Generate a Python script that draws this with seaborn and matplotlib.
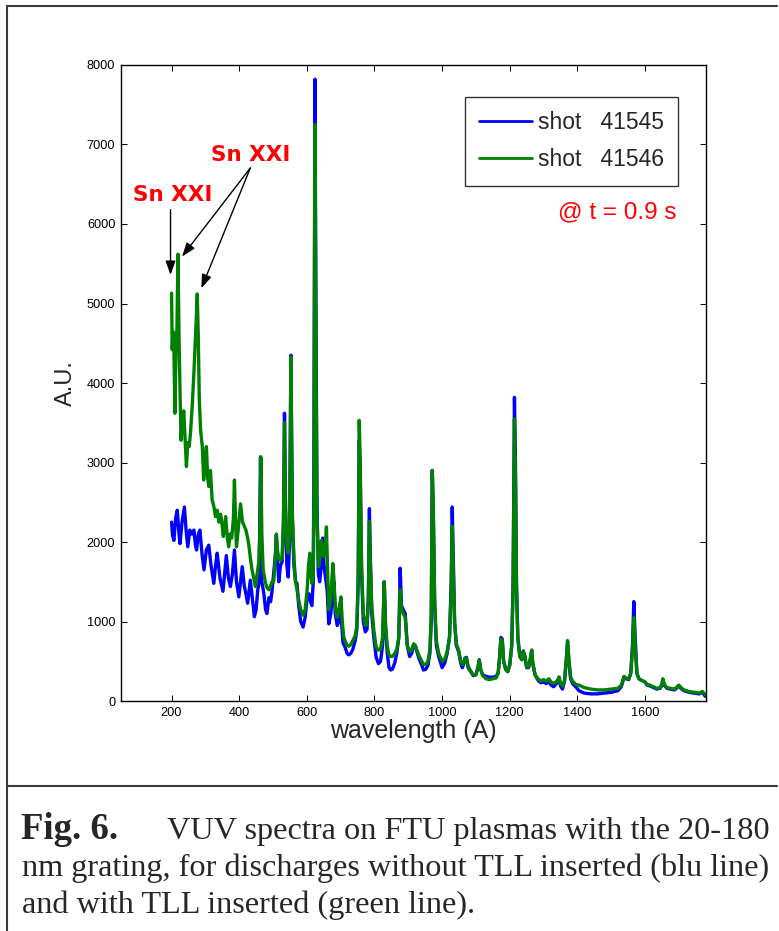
import numpy as np
import pandas as pd
import matplotlib
matplotlib.use("Agg")
import matplotlib.pyplot as plt
from matplotlib.lines import Line2D
import seaborn as sns

# ---------------- data ----------------
wl_41545 = [200, 203, 207, 212, 217, 222, 225, 231, 238, 243, 248, 254, 260, 266, 271, 274, 279, 284, 290, 296,
            303, 310, 317, 325, 330, 335, 343, 352, 357, 362, 368, 374, 380, 386, 392, 399, 404, 409, 415, 420,
            425, 433, 440, 445, 450, 455, 459, 463, 467, 473, 478, 482, 488, 493, 497, 503, 508, 510, 513, 517,
            522, 527, 531, 534, 537, 541, 545, 549, 553, 557, 562, 567, 571, 576, 582, 589, 595, 601, 606, 611,
            615, 619, 621, 624, 627, 630, 634, 638, 643, 647, 651, 655, 660, 665, 671, 677, 680, 684, 690, 695,
            701, 707, 713, 719, 724, 730, 736, 743, 748, 752, 755, 758, 762, 767, 773, 778, 782, 785, 788, 792,
            798, 805, 812, 818, 824, 829, 833, 838, 843, 848, 853, 860, 866, 872, 876, 880, 885, 891, 897, 904,
            910, 916, 921, 927, 933, 940, 945, 952, 958, 964, 968, 971, 974, 978, 983, 990, 1000, 1008, 1015, 1022,
            1027, 1030, 1033, 1037, 1042, 1049, 1055, 1060, 1064, 1068, 1072, 1077, 1083, 1092, 1100, 1106, 1110, 1114, 1120, 1130,
            1140, 1150, 1160, 1166, 1170, 1174, 1178, 1182, 1188, 1194, 1200, 1206, 1210, 1214, 1217, 1220, 1224, 1230, 1236, 1240,
            1245, 1250, 1256, 1262, 1265, 1268, 1275, 1284, 1292, 1300, 1308, 1316, 1322, 1330, 1340, 1346, 1350, 1356, 1362, 1368,
            1371, 1375, 1380, 1386, 1395, 1405, 1420, 1440, 1460, 1480, 1500, 1520, 1530, 1538, 1544, 1552, 1558, 1563, 1567, 1571,
            1576, 1582, 1590, 1600, 1606, 1615, 1625, 1635, 1645, 1650, 1653, 1657, 1665, 1675, 1688, 1695, 1700, 1706, 1715, 1730,
            1745, 1760, 1770, 1778]
au_41545 = [2250, 2080, 2020, 2300, 2400, 2100, 1980, 2250, 2440, 2150, 1940, 2150, 2100, 2150, 1950, 1900, 2100, 2150, 1850, 1650,
            1900, 1960, 1700, 1480, 1700, 1860, 1550, 1380, 1600, 1830, 1550, 1440, 1600, 1900, 1500, 1310, 1500, 1690, 1450, 1350,
            1230, 1520, 1250, 1060, 1150, 1400, 1500, 3070, 1500, 1350, 1150, 1100, 1300, 1250, 1380, 1650, 1900, 2090, 1800, 1500,
            1700, 1750, 2200, 3620, 2400, 1700, 1560, 2000, 4350, 2300, 1700, 1500, 1480, 1200, 1000, 930, 1050, 1300, 1350, 1250,
            1200, 1500, 3000, 7820, 5000, 2500, 1600, 1500, 1700, 2050, 1700, 1560, 1400, 970, 1100, 1400, 1500, 1100, 950, 1000,
            1100, 730, 680, 600, 580, 600, 650, 760, 900, 1500, 3280, 2800, 1600, 1000, 870, 900, 1300, 2420, 1800, 1100,
            800, 550, 470, 500, 700, 1500, 900, 600, 420, 390, 400, 480, 600, 800, 1670, 1200, 1150, 1100, 700, 560,
            600, 700, 690, 600, 520, 450, 390, 400, 450, 600, 1000, 2900, 2400, 1200, 700, 560, 420, 480, 600, 800,
            1500, 2440, 1800, 1000, 700, 620, 480, 420, 470, 540, 550, 420, 380, 320, 330, 420, 520, 400, 330, 310,
            300, 300, 310, 360, 550, 800, 780, 500, 400, 370, 450, 700, 1500, 3820, 3000, 1500, 800, 560, 520, 630,
            560, 420, 420, 550, 640, 480, 330, 260, 230, 240, 220, 250, 200, 180, 230, 300, 190, 150, 250, 550,
            750, 500, 280, 220, 180, 130, 100, 90, 90, 100, 110, 130, 180, 300, 280, 270, 350, 700, 1250, 800,
            350, 280, 260, 240, 200, 190, 170, 150, 160, 200, 270, 200, 160, 150, 140, 170, 190, 160, 130, 110,
            100, 90, 110, 60]

wl_41546 = [200, 202, 204, 207, 210, 213, 216, 219, 222, 225, 228, 232, 236, 240, 244, 248, 252, 256, 261, 266,
            270, 273, 276, 279, 282, 286, 291, 295, 299, 303, 307, 310, 315, 320, 325, 330, 335, 340, 345, 350,
            353, 357, 360, 365, 369, 373, 378, 383, 386, 389, 392, 397, 404, 410, 415, 420, 425, 428, 433, 438,
            443, 448, 453, 458, 461, 464, 467, 471, 478, 483, 488, 493, 497, 502, 507, 510, 513, 518, 522, 527,
            531, 534, 537, 541, 545, 549, 553, 557, 562, 566, 571, 576, 582, 589, 595, 601, 605, 609, 612, 615,
            619, 621, 624, 627, 630, 635, 639, 643, 647, 650, 654, 658, 661, 665, 671, 677, 680, 684, 689, 695,
            701, 705, 709, 714, 719, 724, 730, 736, 743, 748, 752, 755, 758, 762, 767, 773, 778, 782, 785, 788,
            792, 798, 805, 812, 818, 824, 829, 833, 838, 843, 848, 853, 860, 866, 872, 876, 880, 885, 891, 897,
            904, 910, 916, 921, 927, 933, 940, 945, 952, 958, 964, 968, 971, 974, 978, 983, 990, 1000, 1008, 1015,
            1022, 1027, 1030, 1033, 1037, 1042, 1049, 1055, 1060, 1064, 1068, 1072, 1077, 1083, 1092, 1100, 1106, 1110, 1114, 1120,
            1130, 1140, 1150, 1160, 1166, 1170, 1174, 1178, 1182, 1188, 1194, 1200, 1206, 1210, 1214, 1217, 1220, 1224, 1230, 1236,
            1240, 1245, 1250, 1256, 1262, 1265, 1268, 1275, 1284, 1292, 1300, 1308, 1316, 1322, 1330, 1340, 1346, 1350, 1356, 1362,
            1368, 1371, 1375, 1380, 1386, 1395, 1405, 1420, 1440, 1460, 1480, 1500, 1520, 1530, 1538, 1544, 1552, 1558, 1563, 1567,
            1571, 1576, 1582, 1590, 1600, 1606, 1615, 1625, 1635, 1645, 1650, 1653, 1657, 1665, 1675, 1688, 1695, 1700, 1706, 1715,
            1730, 1745, 1760, 1770, 1778]
au_41546 = [5130, 4420, 4650, 4420, 3620, 4400, 4700, 5620, 4600, 3900, 3280, 3500, 3650, 3300, 2950, 3250, 3200, 3370, 3700, 4120,
            4500, 4800, 5120, 4600, 3800, 3400, 3200, 2780, 3000, 3200, 2800, 2700, 2900, 2530, 2450, 2320, 2400, 2250, 2350, 2200,
            2070, 2200, 2320, 2050, 1940, 2100, 2050, 2300, 2780, 2300, 1940, 2150, 2480, 2250, 2200, 2150, 2050, 1980, 1800, 1650,
            1550, 1440, 1600, 1750, 2100, 3070, 2100, 1650, 1480, 1420, 1400, 1450, 1500, 1500, 1800, 2100, 1900, 1780, 1770, 1800,
            2300, 3500, 2500, 1950, 1860, 2100, 4330, 2400, 1800, 1520, 1400, 1270, 1150, 1080, 1150, 1400, 1700, 1860, 1600, 1480,
            1600, 2500, 7250, 4500, 2300, 1690, 1800, 2020, 1900, 1820, 1900, 2190, 1700, 1150, 1300, 1730, 1550, 1200, 1060, 1150,
            1310, 1000, 810, 750, 700, 690, 710, 760, 820, 950, 1600, 3530, 3000, 1700, 1100, 950, 960, 1300, 2260, 1700,
            1200, 900, 680, 640, 650, 800, 1500, 950, 680, 580, 560, 560, 600, 650, 800, 1400, 1150, 1100, 1050, 700,
            620, 650, 720, 700, 620, 560, 500, 460, 460, 500, 650, 1100, 2900, 2400, 1300, 760, 600, 500, 530, 620,
            800, 1400, 2200, 1700, 1000, 720, 640, 500, 460, 490, 540, 540, 440, 390, 330, 330, 420, 510, 400, 320,
            280, 270, 280, 290, 350, 540, 780, 760, 500, 400, 370, 450, 700, 1400, 3550, 2800, 1400, 780, 560, 520,
            620, 560, 430, 430, 560, 640, 480, 330, 280, 250, 270, 250, 280, 240, 220, 250, 300, 220, 190, 260,
            550, 760, 520, 300, 250, 210, 200, 170, 150, 140, 140, 150, 160, 200, 310, 290, 280, 350, 650, 1050,
            700, 350, 280, 260, 240, 210, 200, 180, 160, 170, 210, 280, 210, 170, 160, 150, 180, 200, 170, 140,
            120, 110, 100, 120, 80]

series_labels = ["shot   41545", "shot   41546"]
series_colors = ["#0000ff", "#008000"]
x_ticks = [200, 400, 600, 800, 1000, 1200, 1400, 1600]
y_ticks = [0, 1000, 2000, 3000, 4000, 5000, 6000, 7000, 8000]
annot_label = "Sn XXI"
time_label = "@ t = 0.9 s"
fig_label = "Fig. 6."
caption_lines = ["VUV spectra on FTU plasmas with the 20-180",
                 "nm grating, for discharges without TLL inserted (blu line)",
                 "and with TLL inserted (green line)."]

df = pd.concat([
    pd.DataFrame({"wavelength": wl_41545, "AU": au_41545, "shot": series_labels[0]}),
    pd.DataFrame({"wavelength": wl_41546, "AU": au_41546, "shot": series_labels[1]}),
], ignore_index=True)

# ---------------- figure ----------------
sns.set_theme(style="white")
plt.rcParams["font.family"] = ["Liberation Sans", "DejaVu Sans"]

fig = plt.figure(figsize=(7.79, 9.31), dpi=100)
ax = fig.add_axes([0.1551, 0.2470, 0.7510, 0.6832])

sns.lineplot(data=df, x="wavelength", y="AU", hue="shot", hue_order=series_labels,
             palette=dict(zip(series_labels, series_colors)), estimator=None, sort=False,
             linewidth=2.4, ax=ax, legend=False)

ax.set_xlim(50, 1780)
ax.set_ylim(0, 8000)
ax.set_xticks(x_ticks)
ax.set_yticks(y_ticks)
ax.set_xticklabels([str(t) for t in x_ticks], fontsize=9.2)
ax.set_yticklabels([str(t) for t in y_ticks], fontsize=9.2)
ax.tick_params(direction="in", length=4, width=0.7, top=True, right=True,
               bottom=True, left=True, pad=4, colors="black")
for s in ax.spines.values():
    s.set_color("black")
    s.set_linewidth(1.0)
ax.set_xlabel("wavelength (A)", fontsize=18, labelpad=0)
ax.set_ylabel("A.U.", fontsize=17, labelpad=7)

# legend
handles = [Line2D([0], [0], color=c, lw=2) for c in series_colors]
leg = ax.legend(handles, series_labels, loc="upper right", bbox_to_anchor=(0.9525, 0.9497),
                borderaxespad=0, fontsize=16.5, handlelength=2.3, handletextpad=0.25,
                fancybox=False, frameon=True, borderpad=0.62, labelspacing=0.62)
leg.get_frame().set_edgecolor("black")
leg.get_frame().set_linewidth(1.0)

ax.text(1694, 6140, time_label, color="#ff0000", fontsize=17.5, ha="right", va="center")

# annotations
ax.text(203, 6360, annot_label, color="#ff0000", fontsize=15.5, fontweight="bold",
        family="DejaVu Sans", ha="center", va="center")
ax.text(434, 6870, annot_label, color="#ff0000", fontsize=15.5, fontweight="bold",
        family="DejaVu Sans", ha="center", va="center")
arrow_kw = dict(arrowstyle="-|>,head_length=0.7,head_width=0.25", color="black", lw=1.0,
                shrinkA=0, shrinkB=0)
ax.annotate("", xy=(197, 5360), xytext=(197, 6180), arrowprops=arrow_kw)
ax.annotate("", xy=(231, 5590), xytext=(433, 6705), arrowprops=arrow_kw)
ax.annotate("", xy=(288, 5190), xytext=(433, 6705), arrowprops=arrow_kw)

# outer frame lines
frame_col = "#3a3a3a"
fig.add_artist(Line2D([0.009, 0.997], [1 - 6 / 931, 1 - 6 / 931], color=frame_col, lw=1.5,
                      transform=fig.transFigure))
fig.add_artist(Line2D([0.009, 0.009], [0, 1 - 6 / 931], color=frame_col, lw=1.5,
                      transform=fig.transFigure))
fig.add_artist(Line2D([0.009, 0.997], [1 - 786 / 931, 1 - 786 / 931], color=frame_col, lw=1.5,
                      transform=fig.transFigure))

# caption
cap_font = ["Liberation Serif", "DejaVu Serif"]
base_y = [839, 876, 913]
fig.text(21 / 779, 1 - base_y[0] / 931, fig_label, family=cap_font, fontsize=26.5,
         fontweight="bold", va="baseline", ha="left")
fig.text(167 / 779, 1 - base_y[0] / 931, caption_lines[0], family=cap_font, fontsize=23.2,
         va="baseline", ha="left")
fig.text(22 / 779, 1 - base_y[1] / 931, caption_lines[1], family=cap_font, fontsize=23.2,
         va="baseline", ha="left")
fig.text(22 / 779, 1 - base_y[2] / 931, caption_lines[2], family=cap_font, fontsize=23.2,
         va="baseline", ha="left")

fig.savefig("out.png", dpi=100)
